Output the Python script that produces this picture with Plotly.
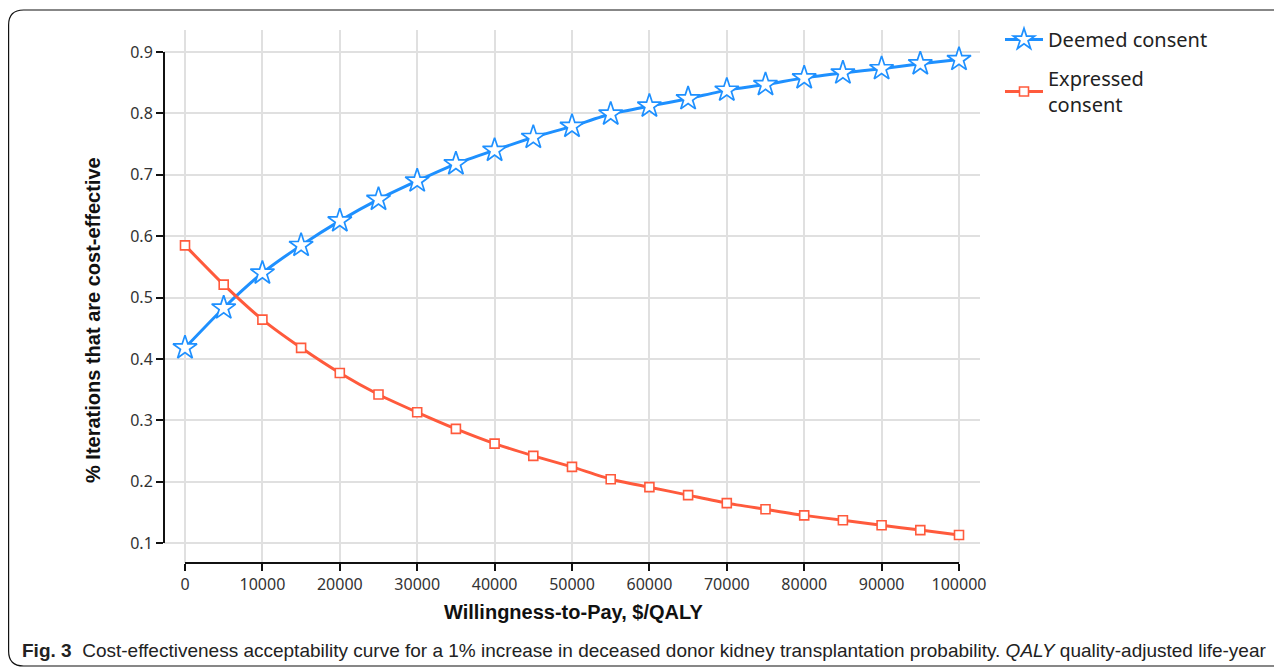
import plotly.graph_objects as go

# Willingness-to-pay thresholds ($/QALY)
wtp = [0, 5000, 10000, 15000, 20000, 25000, 30000, 35000, 40000, 45000, 50000,
       55000, 60000, 65000, 70000, 75000, 80000, 85000, 90000, 95000, 100000]

# share of iterations that are cost-effective
deemed = [0.418, 0.483, 0.540, 0.585, 0.625, 0.660, 0.690, 0.718, 0.740, 0.761, 0.779,
          0.799, 0.812, 0.824, 0.838, 0.847, 0.858, 0.866, 0.873, 0.881, 0.888]
expressed = [0.585, 0.521, 0.464, 0.418, 0.377, 0.342, 0.313, 0.286, 0.262, 0.242, 0.224,
             0.204, 0.191, 0.178, 0.165, 0.155, 0.145, 0.137, 0.129, 0.121, 0.113]

x_ticks = [0, 10000, 20000, 30000, 40000, 50000, 60000, 70000, 80000, 90000, 100000]
y_ticks = [0.1, 0.2, 0.3, 0.4, 0.5, 0.6, 0.7, 0.8, 0.9]

BLUE = "#1E90FF"
RED = "#FF5A3C"

# the page body adds an 8px margin, so work in page pixels and shift
OFF = 8
W, H = 1282 - OFF, 672 - OFF
ML, MR, MT, MB = 164 - OFF, 302, 30 - OFF, 109
PW, PH = W - ML - MR, H - MT - MB


def px(x):
    return (x - OFF - ML) / PW


def py(y):
    return (H - MB - (y - OFF)) / PH


fig = go.Figure()

fig.add_trace(go.Scatter(
    x=wtp, y=deemed, name="Deemed consent", mode="lines+markers", legendgroup="a",
    line=dict(color=BLUE, width=3, shape="spline", smoothing=0.6),
    marker=dict(symbol="star", size=18, color="white", line=dict(color=BLUE, width=1.7)),
))
fig.add_trace(go.Scatter(
    x=wtp, y=expressed, name="Expressed<br>consent", mode="lines+markers", legendgroup="b",
    line=dict(color=RED, width=3, shape="spline", smoothing=0.6),
    marker=dict(symbol="square", size=9, color="white", line=dict(color=RED, width=1.6)),
))

# frame with rounded corners (right edge runs off the page)
l, t, b, r, rad = px(8.6), py(10), py(666), px(1300), 15
rx, ry = rad / PW, rad / PH
frame = (f"M {l},{b + ry} L {l},{t - ry} Q {l},{t} {l + rx},{t} L {r},{t} "
         f"L {r},{b} L {l + rx},{b} Q {l},{b} {l},{b + ry} Z")

shapes = [
    dict(type="path", xref="paper", yref="paper", path=frame,
         line=dict(color="#111", width=1.2), fillcolor="rgba(0,0,0,0)", layer="below"),
    # d3-style axis lines that stop at the outer ticks
    dict(type="line", xref="x", yref="paper", x0=0, x1=100000, y0=0, y1=0,
         line=dict(color="#111", width=2)),
    dict(type="line", xref="paper", yref="y", x0=0, x1=0, y0=0.1, y1=0.9,
         line=dict(color="#111", width=2)),
]

fig.update_layout(
    width=W, height=H,
    margin=dict(l=ML, r=MR, t=MT, b=MB),
    paper_bgcolor="white", plot_bgcolor="white",
    font=dict(family="Noto Sans, Open Sans, sans-serif", color="#333"),
    shapes=shapes,
    legend=dict(x=px(1000), y=py(20), xanchor="left", yanchor="top",
                font=dict(size=20, color="#222"), tracegroupgap=10,
                itemwidth=38),
    annotations=[
        dict(xref="paper", yref="paper", x=px(573), y=py(612), xanchor="center", yanchor="middle",
             showarrow=False, text="<b>Willingness-to-Pay, $/QALY</b>",
             font=dict(family="Liberation Sans, Arial", size=20, color="#111")),
        dict(xref="paper", yref="paper", x=px(93), y=py(320), xanchor="center", yanchor="middle",
             showarrow=False, textangle=-90, text="<b>% Iterations that are cost-effective</b>",
             font=dict(family="Liberation Sans, Arial", size=20, color="#111")),
        dict(xref="paper", yref="paper", x=px(20), y=py(650), xanchor="left", yanchor="middle",
             showarrow=False,
             text="<b>Fig. 3</b>  Cost-effectiveness acceptability curve for a 1% increase in deceased "
                  "donor kidney transplantation probability. <i>QALY</i> quality-adjusted life-year",
             font=dict(family="Liberation Sans, Arial", size=19, color="#222")),
    ],
)

fig.update_xaxes(range=[-2713, 102713], tickvals=x_ticks, ticktext=[str(v) for v in x_ticks],
                 showgrid=True, gridcolor="#e0e0e0", gridwidth=1.5, zeroline=False, showline=False,
                 ticks="outside", ticklen=7, tickwidth=1.5, tickcolor="#111",
                 tickfont=dict(size=16, color="#333"))
fig.update_yaxes(range=[0.0674, 0.936], tickvals=y_ticks, ticktext=[f"{v:.1f}" for v in y_ticks],
                 showgrid=True, gridcolor="#e0e0e0", gridwidth=1.5, zeroline=False, showline=False,
                 ticks="outside", ticklen=7, tickwidth=1.5, tickcolor="#111",
                 tickfont=dict(size=16, color="#333"))

fig.write_html("out.html")
